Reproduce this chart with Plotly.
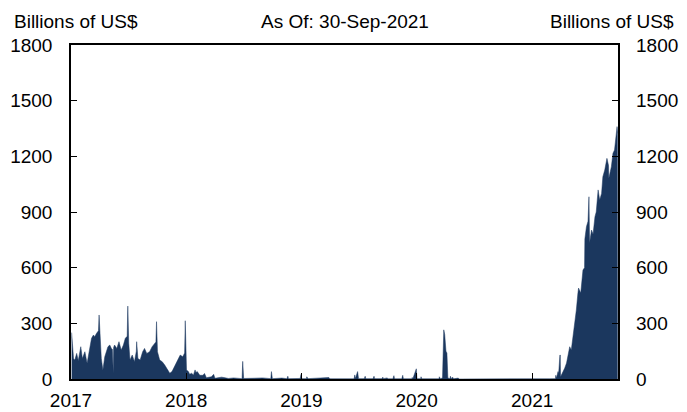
import plotly.graph_objects as go

dates = [
    "2017-01-03","2017-01-05","2017-01-09","2017-01-13","2017-01-19","2017-01-24","2017-02-01","2017-02-06",
    "2017-02-14","2017-02-21","2017-03-02","2017-03-07","2017-03-13","2017-03-17","2017-03-23","2017-03-29",
    "2017-03-31","2017-04-03","2017-04-07","2017-04-12","2017-04-18","2017-04-28","2017-05-04","2017-05-09",
    "2017-05-12","2017-05-15","2017-05-16","2017-05-19","2017-05-26","2017-06-02","2017-06-09","2017-06-16",
    "2017-06-22","2017-06-28","2017-06-30","2017-07-03","2017-07-07","2017-07-14","2017-07-21","2017-07-27",
    "2017-07-28","2017-08-01","2017-08-08","2017-08-16","2017-08-22","2017-08-29","2017-09-07","2017-09-15",
    "2017-09-22","2017-09-27","2017-09-29","2017-10-02","2017-10-09","2017-10-17","2017-10-25","2017-11-01",
    "2017-11-10","2017-11-17","2017-11-24","2017-12-06","2017-12-13","2017-12-21","2017-12-27","2017-12-29",
    "2018-01-02","2018-01-08","2018-01-12","2018-01-18","2018-01-24","2018-01-29","2018-02-01","2018-02-05",
    "2018-02-13","2018-02-23","2018-02-28","2018-03-06","2018-03-15","2018-03-22","2018-03-29","2018-04-02",
    "2018-04-06","2018-04-23","2018-04-30","2018-05-15","2018-05-31","2018-06-27","2018-06-29","2018-07-02",
    "2018-07-31","2018-08-31","2018-09-26","2018-09-28","2018-10-01","2018-10-31","2018-11-16","2018-11-19",
    "2018-11-21","2018-12-28","2018-12-31",
    "2019-01-02","2019-01-17","2019-01-18","2019-01-22","2019-03-29","2019-04-01","2019-05-17","2019-05-20",
    "2019-05-22","2019-06-17","2019-06-19","2019-06-21","2019-06-28","2019-07-01","2019-07-19","2019-07-22",
    "2019-07-24","2019-08-16","2019-08-19","2019-08-21","2019-09-13","2019-09-16","2019-09-18","2019-09-30",
    "2019-10-01","2019-10-18","2019-10-21","2019-10-23","2019-11-15","2019-11-18","2019-11-20","2019-12-17",
    "2019-12-18","2019-12-20","2019-12-31",
    "2020-01-02","2020-01-14","2020-01-15","2020-01-17","2020-03-12","2020-03-13","2020-03-16","2020-03-23",
    "2020-03-25","2020-03-27","2020-03-30","2020-03-31","2020-04-01","2020-04-03","2020-04-06","2020-04-08",
    "2020-04-09","2020-04-16","2020-04-17","2020-04-20","2020-04-24","2020-04-27","2020-05-12","2020-05-14",
    "2020-06-30","2020-09-30","2020-12-31",
    "2021-02-26","2021-03-16","2021-03-17","2021-03-19","2021-03-24","2021-03-26","2021-03-30","2021-03-31",
    "2021-04-01","2021-04-07","2021-04-14","2021-04-20","2021-04-25","2021-04-30","2021-05-05","2021-05-10",
    "2021-05-16","2021-05-21","2021-05-26","2021-05-28","2021-06-04","2021-06-09","2021-06-11","2021-06-16",
    "2021-06-17","2021-06-22","2021-06-27","2021-06-30","2021-07-02","2021-07-08","2021-07-13","2021-07-19",
    "2021-07-23","2021-07-29","2021-08-03","2021-08-09","2021-08-13","2021-08-19","2021-08-26","2021-08-31",
    "2021-09-01","2021-09-09","2021-09-14","2021-09-19","2021-09-23","2021-09-27","2021-09-29",
]
rrp_billions = [
    250,180,110,102,138,99,174,111,
    147,85,183,219,237,228,246,260,
    345,201,111,49,120,174,183,165,
    160,31,170,183,165,201,156,183,
    219,230,393,192,102,129,93,150,
    201,111,102,147,165,138,147,174,
    192,200,309,147,102,93,75,57,
    31,40,66,102,129,120,140,314,
    49,40,25,31,22,49,35,40,
    20,20,30,7,10,12,25,4,
    5,10,8,3,6,2,95,3,
    4,6,2,40,2,5,2,15,
    2,3,25,
    2,2,12,2,8,1,1,5,
    1,1,22,3,40,2,2,15,
    2,2,15,2,2,10,2,6,
    1,1,18,1,1,20,1,1,
    8,1,55,
    2,1,12,1,1,12,2,5,
    138,265,240,200,160,150,140,40,
    5,2,15,2,10,1,5,0,
    1,1,1,
    1,2,20,5,40,30,129,129,
    12,30,58,86,129,174,156,220,
    291,372,463,490,463,544,587,600,
    755,821,850,982,733,803,780,875,
    900,1019,965,1000,1090,1126,1189,1150,
    1082,1144,1216,1234,1300,1360,1324,
]

y_ticks = [0, 300, 600, 900, 1200, 1500, 1800]
x_tick_dates = ["2017-01-01", "2018-01-01", "2019-01-01", "2020-01-01", "2021-01-01"]
x_tick_labels = ["2017", "2018", "2019", "2020", "2021"]
y_unit = "Billions of US$"
as_of = "As Of: 30-Sep-2021"

NAVY = "#1b375e"
FONT = dict(family="Liberation Sans, Arial, sans-serif", size=19, color="black")

fig = go.Figure()
fig.add_trace(go.Scatter(
    x=dates, y=rrp_billions, mode="lines", fill="tozeroy",
    line=dict(color=NAVY, width=0.5), fillcolor=NAVY,
    showlegend=False, hoverinfo="skip",
))
fig.add_trace(go.Scatter(
    x=[dates[0]], y=[0], yaxis="y2", mode="markers",
    marker=dict(opacity=0), showlegend=False, hoverinfo="skip",
))

fig.update_layout(
    width=687, height=412,
    margin=dict(l=71, r=69, t=45, b=33),
    paper_bgcolor="white", plot_bgcolor="white",
    font=FONT,
    xaxis=dict(
        type="date", range=["2017-01-01", "2021-09-30"],
        tickvals=x_tick_dates, ticktext=x_tick_labels,
        ticks="inside", ticklen=6, tickwidth=1.2, tickcolor="black",
        showline=True, linecolor="black", linewidth=1.5, mirror=True,
        showgrid=False, zeroline=False, ticklabelstandoff=3, automargin=False,
    ),
    yaxis=dict(
        range=[0, 1800], tickvals=y_ticks,
        ticks="inside", ticklen=6, tickwidth=1.2, tickcolor="black",
        showline=True, linecolor="black", linewidth=1.5, mirror=True,
        showgrid=False, zeroline=False, ticklabelstandoff=13, automargin=False,
    ),
    yaxis2=dict(
        range=[0, 1800], tickvals=y_ticks, overlaying="y", side="right",
        ticks="inside", ticklen=6, tickwidth=1.2, tickcolor="black",
        showline=False, showgrid=False, zeroline=False, ticklabelstandoff=17,
        automargin=False,
    ),
    annotations=[
        dict(text=y_unit, xref="paper", yref="paper", x=0, y=1.07, xshift=-59,
             xanchor="left", yanchor="middle", showarrow=False, font=FONT),
        dict(text=as_of, xref="paper", yref="paper", x=0.5, y=1.07,
             xanchor="center", yanchor="middle", showarrow=False, font=FONT),
        dict(text=y_unit, xref="paper", yref="paper", x=1, y=1.07, xshift=58,
             xanchor="right", yanchor="middle", showarrow=False, font=FONT),
    ],
)

fig.write_html("out.html", config={"displayModeBar": False},
               post_script="document.body.style.margin='0px';")
